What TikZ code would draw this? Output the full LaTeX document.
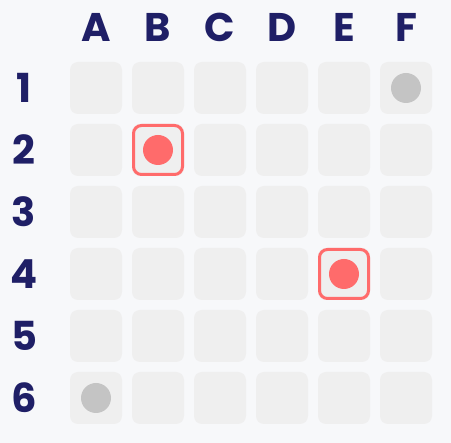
\documentclass[tikz,border=0pt]{standalone}
\usepackage{fontspec}
\newfontfamily\labelfont{Poppins}
\usetikzlibrary{positioning}
\definecolor{bgcolor}{RGB}{247,248,250}
\definecolor{cellgray}{RGB}{239,239,239}
\definecolor{navy}{RGB}{31,31,102}
\definecolor{hitred}{RGB}{255,107,107}
\definecolor{missgray}{RGB}{196,196,196}

\begin{document}
\begin{tikzpicture}[x=0.5pt, y=-0.5pt,
  cell/.style={rectangle, rounded corners=4pt, fill=cellgray, minimum size=26pt, inner sep=0pt},
  hit/.style={cell, draw=hitred, line width=1.5pt, minimum size=24.5pt},
  dot/.style={circle, minimum size=15pt, inner sep=0pt},
  label/.style={font=\labelfont\bfseries\fontsize{20}{24}\selectfont, text=navy, inner sep=0pt}
]
  \fill[bgcolor] (0,0) rectangle (451,443);
  \useasboundingbox (0,0) rectangle (451,443);

  % column and row labels
  \foreach \c [count=\i] in {A,B,C,D,E,F}
    \node[label] (col\c) at (34+62*\i, 27) {\c};
  \foreach \r in {1,...,6}
    \node[label] (row\r) at (24, 26+62*\r) {\r};

  % board
  \foreach \c [count=\i] in {A,B,C,D,E,F}
    \foreach \r in {1,...,6}
      \node[cell] (\c\r) at (34+62*\i, 26+62*\r) {};

  % hits
  \node[hit] (hitB2) at (B2) {};
  \node[hit] (hitE4) at (E4) {};
  \node[dot, fill=hitred] (dotB2) at (B2) {};
  \node[dot, fill=hitred] (dotE4) at (E4) {};

  % misses
  \node[dot, fill=missgray] (dotF1) at (F1) {};
  \node[dot, fill=missgray] (dotA6) at (A6) {};
\end{tikzpicture}
\end{document}
